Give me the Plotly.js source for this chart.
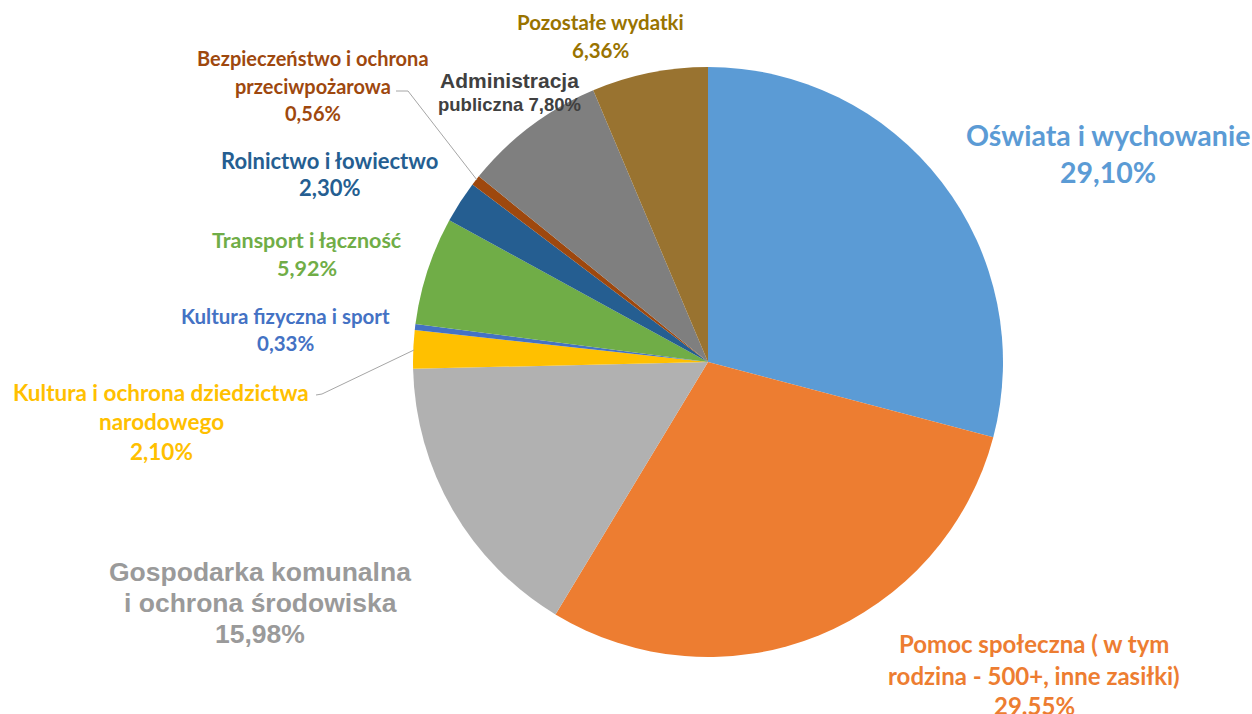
<!DOCTYPE html>
<html>
<head>
<meta charset="utf-8">
<script src="https://cdn.plot.ly/plotly-3.0.1.min.js"></script>
<style>html,body{margin:0;padding:0;background:#fff;}#chart{width:1252px;height:714px;}</style>
</head>
<body>
<div id="chart"></div>
<script>
// Data
const categories = [
  "Oświata i wychowanie",
  "Pomoc społeczna ( w tym rodzina - 500+, inne zasiłki)",
  "Gospodarka komunalna i ochrona środowiska",
  "Kultura i ochrona dziedzictwa narodowego",
  "Kultura fizyczna i sport",
  "Transport i łączność",
  "Rolnictwo i łowiectwo",
  "Bezpieczeństwo i ochrona przeciwpożarowa",
  "Administracja publiczna",
  "Pozostałe wydatki"
];
const values = [29.10, 29.55, 15.98, 2.10, 0.33, 5.92, 2.30, 0.56, 7.80, 6.36];
const percentLabels = ["29,10%", "29.55%", "15,98%", "2,10%", "0,33%", "5,92%", "2,30%", "0,56%", "7,80%", "6,36%"];
const sliceColors = ["#5B9BD5", "#ED7D31", "#B1B1B1", "#FFC000", "#4472C4", "#70AD47", "#255E91", "#9E480E", "#7F7F7F", "#997330"];
const labelColors = ["#5B9BD5", "#ED7D31", "#9A9A9A", "#FFC000", "#4472C4", "#70AD47", "#255E91", "#9E480E", "#404040", "#997300"];
// Label text split into lines (last line is the percent)
const labelLines = [
  ["Oświata i wychowanie"],
  ["Pomoc społeczna ( w tym", "rodzina - 500+, inne zasiłki)"],
  ["Gospodarka komunalna", "i ochrona środowiska"],
  ["Kultura i ochrona dziedzictwa", "narodowego"],
  ["Kultura fizyczna i sport"],
  ["Transport i łączność"],
  ["Rolnictwo i łowiectwo"],
  ["Bezpieczeństwo i ochrona", "przeciwpożarowa"],
  ["Administracja"],
  ["Pozostałe wydatki"]
];

const W = 1252, H = 714;
const px = x => x / W;
const py = y => 1 - y / H;

// Label layout (pixel positions of each line centre), fonts
const CAL = "Lato, 'Open Sans', sans-serif";
const ARI = "'Liberation Sans', Arial, sans-serif";
const layoutInfo = [
  {x: 1108, ys: [135, 172], size: 28.5, family: CAL},
  {x: 1034, ys: [643, 675, 705], size: 24, family: CAL},
  {x: 260, ys: [572, 603, 634], size: 26.5, family: ARI},
  {x: 161, ys: [392, 421, 451], size: 22.5, family: CAL},
  {x: 285, ys: [316, 343], size: 20.5, family: CAL},
  {x: 307, ys: [240, 268], size: 21.5, family: CAL},
  {x: 329, ys: [160, 188], size: 22, family: CAL},
  {x: 313, ys: [58, 86, 113], size: 20, family: CAL},
  null,
  {x: 600, ys: [22, 50], size: 20.5, family: CAL}
];

const annotations = [];
categories.forEach((c, i) => {
  const info = layoutInfo[i];
  if (!info) return;
  const lines = labelLines[i].concat([percentLabels[i]]);
  lines.forEach((t, k) => {
    annotations.push({
      xref: 'paper', yref: 'paper', x: px(info.x), y: py(info.ys[k]),
      xanchor: 'center', yanchor: 'middle', showarrow: false,
      text: '<b>' + t + '</b>',
      font: {family: info.family, size: info.size, color: labelColors[i]}
    });
  });
});
// Administracja (left aligned, two sizes)
annotations.push({
  xref: 'paper', yref: 'paper', x: px(438), y: py(80), xanchor: 'left', yanchor: 'middle', showarrow: false,
  text: '<b>' + labelLines[8][0] + '</b>', font: {family: ARI, size: 21, color: labelColors[8]}
});
annotations.push({
  xref: 'paper', yref: 'paper', x: px(436), y: py(104), xanchor: 'left', yanchor: 'middle', showarrow: false,
  text: '<b>publiczna ' + percentLabels[8] + '</b>', font: {family: ARI, size: 18.5, color: labelColors[8]}
});

const lineStyle = {color: '#A6A6A6', width: 1};
const shapes = [
  {type: 'path', xref: 'paper', yref: 'paper',
   path: `M ${px(396)} ${py(91)} L ${px(408)} ${py(91)} L ${px(477)} ${py(180)}`, line: lineStyle},
  {type: 'path', xref: 'paper', yref: 'paper',
   path: `M ${px(316)} ${py(395)} L ${px(322)} ${py(394)} L ${px(414)} ${py(350)}`, line: lineStyle}
];

const trace = {
  type: 'pie',
  labels: categories,
  values: values,
  sort: false,
  direction: 'clockwise',
  rotation: 0,
  textinfo: 'none',
  hoverinfo: 'label+percent',
  marker: {colors: sliceColors, line: {width: 0}},
  domain: {x: [px(413), px(1003)], y: [py(657), py(67)]},
  showlegend: false
};

Plotly.newPlot('chart', [trace], {
  width: W, height: H,
  margin: {l: 0, r: 0, t: 0, b: 0},
  paper_bgcolor: '#ffffff',
  annotations: annotations,
  shapes: shapes
}, {displayModeBar: false, staticPlot: true});
</script>
</body>
</html>
